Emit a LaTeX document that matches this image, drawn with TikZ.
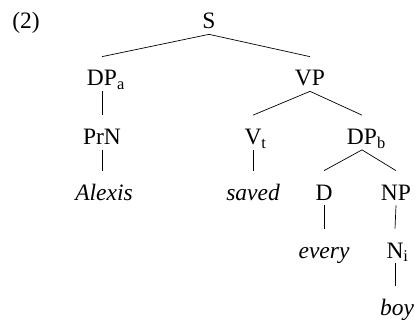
\documentclass[tikz,border=0pt]{standalone}
\usepackage{fontspec}
\setmainfont{Liberation Serif}
\newfontfamily\treefont{Liberation Serif}
\begin{document}
\begin{tikzpicture}[x=1pt, y=-1pt, line width=0.7pt,
		cat/.style={inner sep=0pt, text height=29pt, text depth=5pt, anchor=base, font=\treefont\fontsize{23.5}{28}\selectfont},
		word/.style={cat, font=\treefont\fontsize{23.5}{28}\selectfont\itshape}]
		\useasboundingbox (0, 0) rectangle (419, 320);
		%%Start of figure. Tree 2
			\node[cat, anchor=base west] (num) at (12, 29){(2)};
			\node[cat] (S) at (209, 29){S};
		
			%level 1%
			\node[cat] (DPa) at (102, 86){DP\rlap{\textsubscript{a}}};
			\node[cat] (VP) at (310, 86){VP};
			
			%level 2%
			\node[cat] (PrN) at (102, 144.5){PrN};
			\node[cat] (Vt) at (253, 144.5){V\rlap{\textsubscript{t}}};
			\node[cat] (DPb) at (362, 144.5){DP\rlap{\textsubscript{b}}};
			
			%level 3%
			\node[word] (alexis) at (104, 200){Alexis};
			\node[word] (saved) at (253, 200){saved};
			\node[cat] (D) at (324, 200){D};
			\node[cat] (NP) at (396, 200){NP};
			
			%level 4%
			\node[word] (every) at (324, 258){every};
			\node[cat] (Ni) at (395, 258){N\rlap{\textsubscript{i}}};
			\node[word] (boy) at (397, 315){boy};
			
			%branches%
			\draw (S.south) to (DPa.north);
			\draw (S.south) to (VP.north);
			\draw (DPa.south) to (PrN.north);
			\draw (PrN.south) to ([xshift=-2pt]alexis.north);
			\draw (VP.south) to (Vt.north);
			\draw (VP.south) to (DPb.north);
			\draw (Vt.south) to (saved.north);
			\draw (DPb.south) to (D.north);
			\draw (DPb.south) to (NP.north);
			\draw (D.south) to (every.north);
			\draw (NP.south) to (Ni.north);
			\draw (Ni.south) to ([xshift=-2pt]boy.north);
		\end{tikzpicture}
\end{document}
